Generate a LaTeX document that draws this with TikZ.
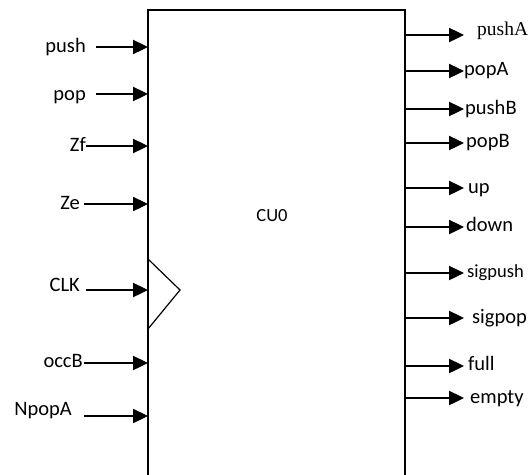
\documentclass[tikz,border=0pt]{standalone}
\usepackage{fontspec}
\setmainfont{Carlito}
\newfontfamily\timesf{Liberation Serif}
\usetikzlibrary{arrows.meta}
\begin{document}
\begin{tikzpicture}[x=1pt,y=-1pt,
  sig/.style={line width=2.4pt,-{Triangle[length=15pt,width=14pt]}},
  lblin/.style={anchor=base east,inner sep=0pt,font=\fontsize{20.5}{22}\selectfont},
  lblout/.style={anchor=base west,inner sep=0pt,font=\fontsize{20.5}{22}\selectfont},
  boxline/.style={line width=1.6pt}]
\useasboundingbox (0,0) rectangle (532,474);
% box (open at bottom)
\draw[boxline] (148,480) -- (148,10) -- (405,10) -- (405,480);
\node[anchor=base,inner sep=0pt,font=\fontsize{18.5}{20}\selectfont] (cu) at (272,221) {CU0};
% clock triangle
\draw[line width=1.2pt] (148,259) -- (180,290) -- (148,329);
% inputs
\node[lblin] (push) at (86,52) {push};
\node[lblin] (pop) at (86,100) {pop};
\node[lblin] (zf) at (86,151) {Zf};
\node[lblin] (ze) at (80,209) {Ze};
\node[lblin] (clk) at (80,291) {CLK};
\node[lblin] (occb) at (83,367) {occB};
\node[lblin] (npopa) at (72,415) {NpopA};
\foreach \n/\xs/\y in {push/96/47,pop/96/94,zf/86/146,ze/84/204,clk/86/290,occb/84/363,npopa/84/416}{
  \coordinate (\n s) at (\xs,\y);
  \coordinate (\n e) at (148,\y);
  \draw[sig] (\n s) -- (\n e);
}
% outputs
\node[anchor=base west,inner sep=0pt,font=\timesf\fontsize{19.5}{21}\selectfont] (pusha) at (477,35) {pushA};
\node[lblout] (popa) at (464,75) {popA};
\node[lblout] (pushb) at (465,114) {pushB};
\node[lblout] (popb) at (466,147) {popB};
\node[lblout] (up) at (468,193) {up};
\node[lblout] (down) at (466,231) {down};
\node[lblout,font=\fontsize{18.5}{20}\selectfont] (sigpush) at (467,277) {sigpush};
\node[lblout] (sigpop) at (472,323) {sigpop};
\node[lblout] (full) at (468,370) {full};
\node[lblout] (empty) at (470,403) {empty};
\foreach \n/\y in {pusha/35,popa/71,pushb/109,popb/143,up/188,down/227,sigpush/273,sigpop/318,full/366,empty/398}{
  \coordinate (\n s) at (405,\y);
  \coordinate (\n e) at (464,\y);
  \draw[sig] (\n s) -- (\n e);
}
\end{tikzpicture}
\end{document}
